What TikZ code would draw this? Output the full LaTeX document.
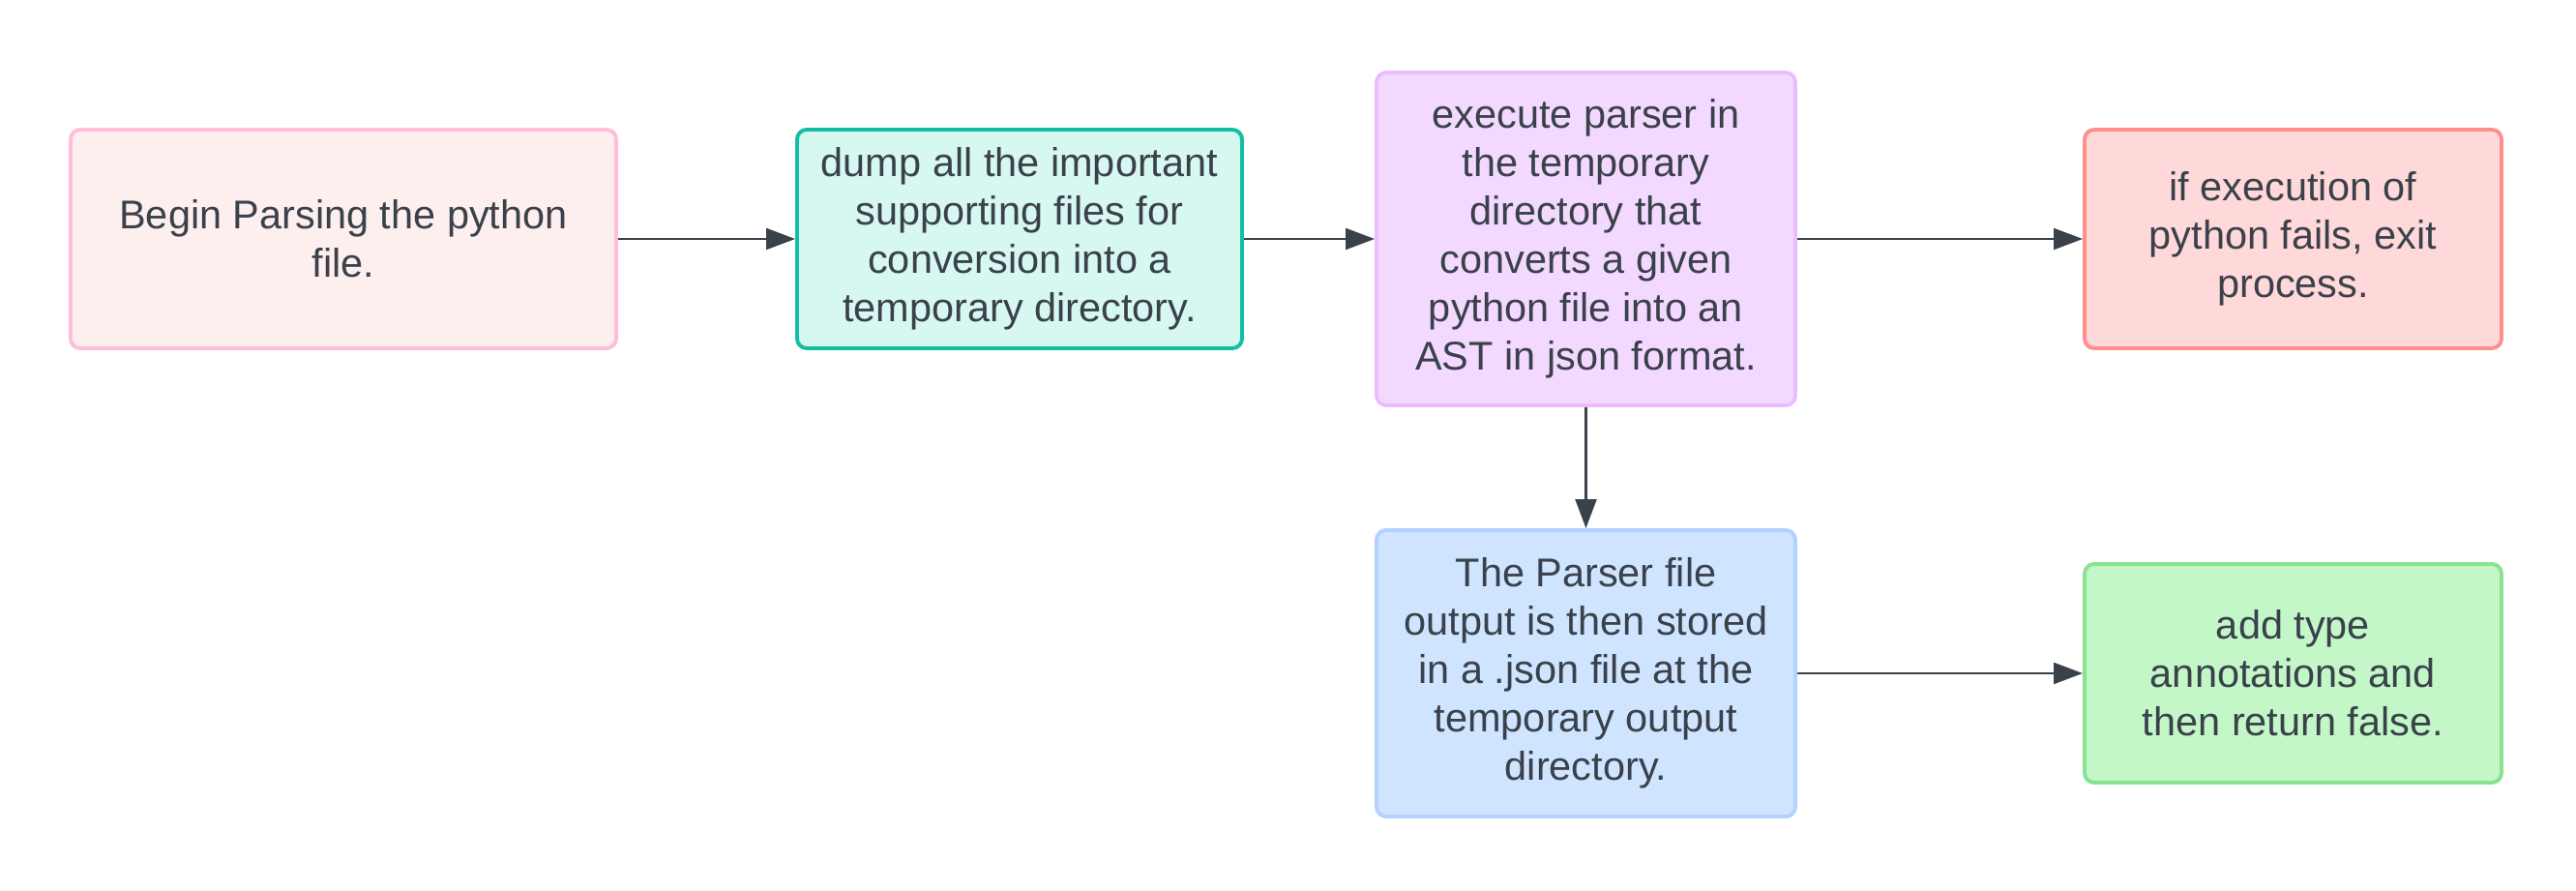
\documentclass[tikz,border=0pt]{standalone}
\usepackage{fontspec}
\setmainfont{Liberation Sans}
\usepackage{tikz}
\usetikzlibrary{arrows.meta}
\definecolor{txt}{HTML}{3A414A}
\definecolor{pinkfill}{HTML}{FEEFEF}
\definecolor{pinkline}{HTML}{FFBDDA}
\definecolor{tealfill}{HTML}{D6F8F1}
\definecolor{tealline}{HTML}{12BFA5}
\definecolor{purpfill}{HTML}{F3D9FF}
\definecolor{purpline}{HTML}{EBBDFF}
\definecolor{redfill}{HTML}{FFD8D9}
\definecolor{redline}{HTML}{FF8E8E}
\definecolor{bluefill}{HTML}{CFE4FF}
\definecolor{blueline}{HTML}{B1D2FF}
\definecolor{greenfill}{HTML}{C3F7C8}
\definecolor{greenline}{HTML}{86E38F}
\tikzstyle{box} = [rectangle, rounded corners=0.1cm, line width=1.1pt, inner sep=0pt, align=center, text=txt, font=\fontsize{11.8}{14.2}\selectfont]
\tikzstyle{arrow} = [line width=0.6pt, draw=txt, -{Triangle[length=0.3cm, width=0.22cm]}]

\begin{document}
\begin{tikzpicture}
\useasboundingbox (0,0) rectangle (26.63,9.21);
\node[box, fill=pinkfill, draw=pinkline, minimum width=5.64cm, minimum height=2.26cm] (start) at (3.55,6.74) {Begin Parsing the python\\file.};
\node[box, fill=tealfill, draw=tealline, minimum width=4.6cm, minimum height=2.26cm] (dump) at (10.54,6.74) {dump all the important\\supporting files for\\conversion into a\\temporary directory.};
\node[box, fill=purpfill, draw=purpline, minimum width=4.33cm, minimum height=3.44cm] (exec) at (16.395,6.74) {execute parser in\\the temporary\\directory that\\converts a given\\python file into an\\AST in json format.};
\node[box, fill=redfill, draw=redline, minimum width=4.31cm, minimum height=2.26cm] (fail) at (23.705,6.74) {if execution of\\python fails, exit\\process.};
\node[box, fill=bluefill, draw=blueline, minimum width=4.33cm, minimum height=2.96cm] (store) at (16.395,2.25) {The Parser file\\output is then stored\\in a .json file at the\\temporary output\\directory.};
\node[box, fill=greenfill, draw=greenline, minimum width=4.31cm, minimum height=2.26cm] (annot) at (23.705,2.25) {add type\\annotations and\\then return false.};
\draw[arrow] (start.east) -- (dump.west);
\draw[arrow] (dump.east) -- (exec.west);
\draw[arrow] (exec.east) -- (fail.west);
\draw[arrow] (exec.south) -- (store.north);
\draw[arrow] (store.east) -- (annot.west);
\end{tikzpicture}
\end{document}
